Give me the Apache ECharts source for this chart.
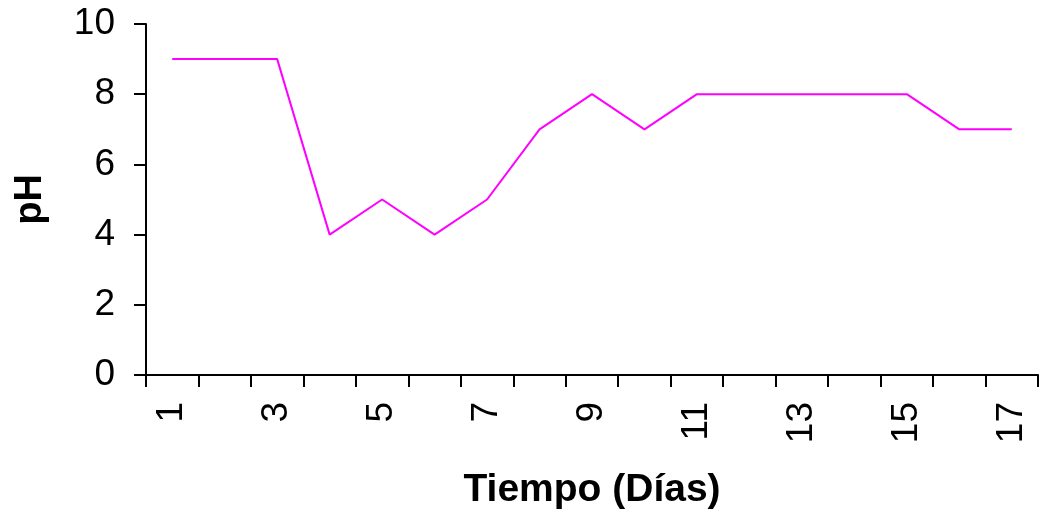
<!DOCTYPE html>
<html>
<head>
<meta charset="utf-8">
<style>
  html, body { margin: 0; padding: 0; background: #ffffff; }
  #chart { width: 1043px; height: 516px; }
</style>
<script src="https://cdn.jsdelivr.net/npm/echarts@6/dist/echarts.min.js"></script>
</head>
<body>
<div id="chart"></div>
<script>
// Días de muestreo y pH medido
const dias = ['1','2','3','4','5','6','7','8','9','10','11','12','13','14','15','16','17'];
const ph = [9, 9, 9, 4, 5, 4, 5, 7, 8, 7, 8, 8, 8, 8, 8, 7, 7];
const yMin = 0, yMax = 10, yStep = 2;

const FONT = '"Liberation Sans", Arial, sans-serif';
const chart = echarts.init(document.getElementById('chart'), null, { renderer: 'canvas' });

chart.setOption({
  animation: false,
  backgroundColor: '#ffffff',
  grid: { left: 146, right: 5, top: 24, bottom: 141, containLabel: false, outerBoundsMode: 'none' },
  xAxis: {
    type: 'category',
    data: dias,
    boundaryGap: true,
    name: 'Tiempo (Días)',
    nameLocation: 'middle',
    nameGap: 96,
    nameTextStyle: { fontFamily: FONT, fontSize: 39, fontWeight: 'bold', color: '#000' },
    axisLine: { show: true, lineStyle: { color: '#000', width: 2 } },
    axisTick: { show: true, interval: 0, length: 12, inside: false, lineStyle: { color: '#000', width: 2 } },
    axisLabel: {
      interval: 1,
      rotate: 90,
      margin: 27,
      fontFamily: FONT,
      fontSize: 37,
      color: '#000'
    },
    splitLine: { show: false }
  },
  yAxis: {
    type: 'value',
    min: yMin,
    max: yMax,
    interval: yStep,
    name: 'pH',
    nameLocation: 'middle',
    nameGap: 96,
    nameRotate: 90,
    nameTextStyle: { fontFamily: FONT, fontSize: 38, fontWeight: 'bold', color: '#000' },
    axisLine: { show: true, lineStyle: { color: '#000', width: 2 } },
    axisTick: { show: true, length: 12, lineStyle: { color: '#000', width: 2 } },
    axisLabel: { margin: 31, fontFamily: FONT, fontSize: 37, color: '#000' },
    splitLine: { show: false }
  },
  series: [{
    type: 'line',
    data: ph,
    showSymbol: false,
    symbol: 'none',
    lineStyle: { color: '#ff00ff', width: 2 },
    itemStyle: { color: '#ff00ff' }
  }]
});
</script>
</body>
</html>
